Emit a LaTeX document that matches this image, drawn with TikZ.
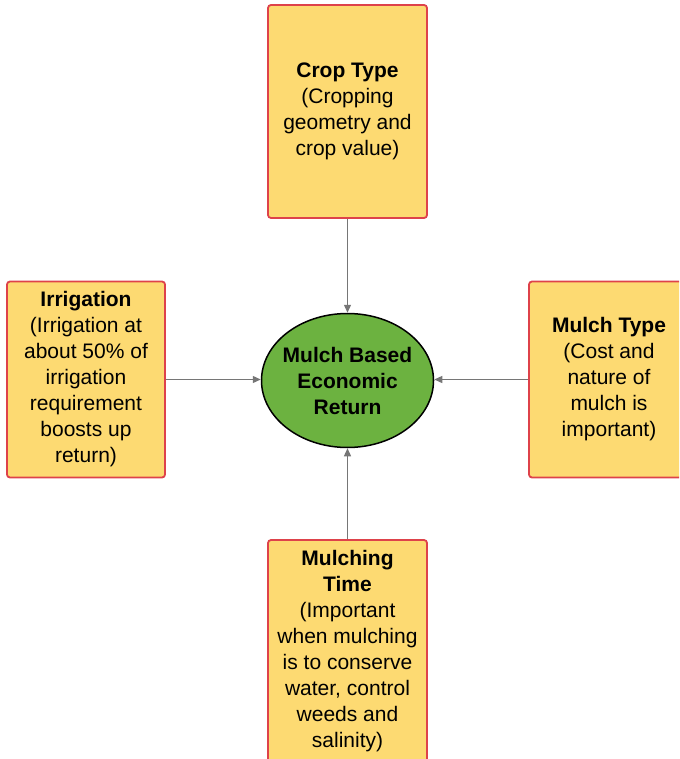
\documentclass[tikz,border=0pt]{standalone}
\usepackage{fontspec}
\setmainfont{Liberation Sans}
\usetikzlibrary{arrows.meta,shapes.geometric}
\definecolor{boxfill}{RGB}{253,218,114}
\definecolor{boxline}{RGB}{222,66,74}
\definecolor{hubfill}{RGB}{108,178,64}
\definecolor{linkgray}{RGB}{118,118,118}
\tikzset{
  factor/.style={draw=boxline, fill=boxfill, line width=1.8pt, rounded corners=3pt,
    align=center, font=\fontsize{21}{26}\selectfont, inner sep=0pt},
  hub/.style={ellipse, draw=black, fill=hubfill, line width=1.5pt,
    minimum width=172pt, minimum height=134pt, align=center,
    font=\bfseries\fontsize{21}{26}\selectfont, inner xsep=-5pt, inner ysep=0pt},
  link/.style={draw=linkgray, line width=1.3pt, -{Triangle[length=8pt,width=7pt]}}
}
\begin{document}
\begin{tikzpicture}[x=1pt,y=-1pt]
\useasboundingbox (0,0) rectangle (679,759);
\clip (0,0) rectangle (679,759);

% central outcome
\node[hub] (hub) at (347.5,380.5) {Mulch Based\\Economic\\Return};

% contributing factors
\node[factor, minimum width=159pt, minimum height=213pt] (crop) at (347.5,111.5)
  {\textbf{Crop Type}\\(Cropping\\geometry and\\crop value)};
\node[factor, minimum width=158pt, minimum height=196pt] (irr) at (86,379.5)
  {\textbf{Irrigation}\\(Irrigation at\\about 50\% of\\irrigation\\requirement\\boosts up\\return)};
\node[factor, minimum width=160pt, minimum height=196pt] (mtype) at (609,379.5)
  {\textbf{Mulch Type}\\(Cost and\\nature of\\mulch is\\important)};
\node[factor, minimum width=159pt, minimum height=222pt] (mtime) at (347.5,651)
  {\textbf{Mulching}\\\textbf{Time}\\(Important\\when mulching\\is to conserve\\water, control\\weeds and\\salinity)};

% connectors into the hub, kept level with the side boxes
\draw[link] (crop.south) -- (hub.north);
\draw[link] (irr.east) -- (irr.east -| hub.west);
\draw[link] (mtype.west) -- (mtype.west -| hub.east);
\draw[link] (mtime.north) -- (hub.south);
\end{tikzpicture}
\end{document}
